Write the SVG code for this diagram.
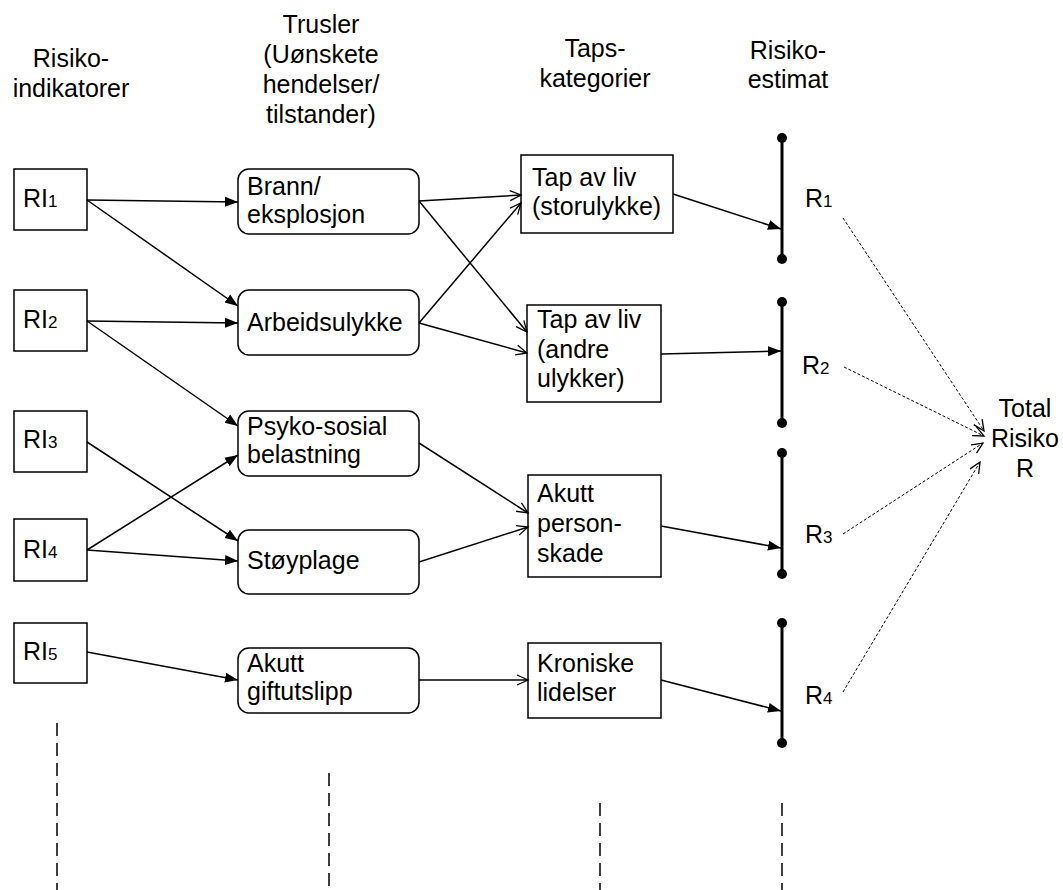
<svg xmlns="http://www.w3.org/2000/svg" width="1063" height="890" viewBox="0 0 1063 890">
  <style>
    text { font-family: "Liberation Sans", Arial, sans-serif; font-size: 25px; fill: #000; }
    .head { text-anchor: middle; }
    .sub { font-size: 17px; }
    .box { fill: #fff; stroke: #000; stroke-width: 1.5; }
    .edge { fill: none; stroke: #000; stroke-width: 1.5; }
    .dash { fill: none; stroke: #000; stroke-width: 1; stroke-dasharray: 3 2; }
    .guide { fill: none; stroke: #000; stroke-width: 1.5; stroke-dasharray: 13 7; }
    .bar { stroke: #000; stroke-width: 3; }
  </style>
  <defs>
    <marker id="solidHead" markerUnits="userSpaceOnUse" markerWidth="14" markerHeight="12" viewBox="0 0 14 12" refX="13" refY="6" orient="auto">
      <path d="M0,1 L13,6 L0,11 z" fill="#000"/>
    </marker>
    <marker id="openHead" markerUnits="userSpaceOnUse" markerWidth="14" markerHeight="12" viewBox="0 0 14 12" refX="12" refY="6" orient="auto">
      <path d="M1,1 L12,6 L1,11" fill="none" stroke="#000" stroke-width="1.3"/>
    </marker>
  </defs>
  <rect width="1063" height="890" fill="#fff"/>

  <!-- column headings -->
  <g id="headings">
    <text class="head" x="71" y="67">Risiko-</text>
    <text class="head" x="71" y="97">indikatorer</text>
    <text class="head" x="321" y="33">Trusler</text>
    <text class="head" x="321" y="63">(Uønskete</text>
    <text class="head" x="321" y="93">hendelser/</text>
    <text class="head" x="321" y="123">tilstander)</text>
    <text class="head" x="595" y="57">Taps-</text>
    <text class="head" x="595" y="87">kategorier</text>
    <text class="head" x="788" y="59">Risiko-</text>
    <text class="head" x="788" y="88">estimat</text>
  </g>

  <!-- risk indicators -->
  <g id="ri1"><rect class="box" x="14" y="169" width="73" height="61"/><text x="23" y="207">RI<tspan class="sub">1</tspan></text></g>
  <g id="ri2"><rect class="box" x="14" y="290" width="73" height="61"/><text x="23" y="328">RI<tspan class="sub">2</tspan></text></g>
  <g id="ri3"><rect class="box" x="14" y="411" width="73" height="61"/><text x="23" y="448">RI<tspan class="sub">3</tspan></text></g>
  <g id="ri4"><rect class="box" x="14" y="519" width="73" height="62"/><text x="23" y="558">RI<tspan class="sub">4</tspan></text></g>
  <g id="ri5"><rect class="box" x="14" y="623" width="73" height="60"/><text x="23" y="660">RI<tspan class="sub">5</tspan></text></g>

  <!-- threats -->
  <g id="brann"><rect class="box" x="238" y="169" width="181" height="65" rx="11"/><text x="247" y="195">Brann/</text><text x="247" y="223">eksplosjon</text></g>
  <g id="arbeidsulykke"><rect class="box" x="238" y="290" width="181" height="65" rx="11"/><text x="247" y="331">Arbeidsulykke</text></g>
  <g id="psykososial"><rect class="box" x="238" y="411" width="181" height="65" rx="11"/><text x="247" y="435">Psyko-sosial</text><text x="247" y="463">belastning</text></g>
  <g id="stoyplage"><rect class="box" x="238" y="530" width="181" height="64" rx="11"/><text x="247" y="569">Støyplage</text></g>
  <g id="giftutslipp"><rect class="box" x="238" y="648" width="181" height="65" rx="11"/><text x="247" y="672">Akutt</text><text x="247" y="700">giftutslipp</text></g>

  <!-- loss categories -->
  <g id="tap-storulykke"><rect class="box" x="521" y="155" width="152" height="78"/><text x="532" y="186">Tap av liv</text><text x="532" y="215">(storulykke)</text></g>
  <g id="tap-andre"><rect class="box" x="527" y="305" width="134" height="97"/><text x="537" y="328">Tap av liv</text><text x="537" y="358">(andre</text><text x="537" y="387">ulykker)</text></g>
  <g id="personskade"><rect class="box" x="528" y="475" width="133" height="102"/><text x="537" y="502">Akutt</text><text x="537" y="532">person-</text><text x="537" y="562">skade</text></g>
  <g id="kroniske"><rect class="box" x="528" y="643" width="133" height="75"/><text x="537" y="672">Kroniske</text><text x="537" y="701">lidelser</text></g>

  <!-- risk estimate scales -->
  <g id="r1"><line class="bar" x1="782" y1="138" x2="782" y2="259"/><circle cx="782" cy="138" r="5"/><circle cx="782" cy="259" r="5"/><text x="805" y="207">R<tspan class="sub">1</tspan></text></g>
  <g id="r2"><line class="bar" x1="782" y1="302" x2="782" y2="423"/><circle cx="782" cy="302" r="5"/><circle cx="782" cy="423" r="5"/><text x="802" y="374">R<tspan class="sub">2</tspan></text></g>
  <g id="r3"><line class="bar" x1="782" y1="453" x2="782" y2="574"/><circle cx="782" cy="453" r="5"/><circle cx="782" cy="574" r="5"/><text x="805" y="543">R<tspan class="sub">3</tspan></text></g>
  <g id="r4"><line class="bar" x1="782" y1="623" x2="782" y2="743"/><circle cx="782" cy="623" r="5"/><circle cx="782" cy="743" r="5"/><text x="805" y="704">R<tspan class="sub">4</tspan></text></g>

  <!-- total -->
  <g id="total">
    <text class="head" x="1025" y="417">Total</text>
    <text class="head" x="1025" y="447">Risiko</text>
    <text class="head" x="1025" y="477">R</text>
  </g>

  <!-- connectors -->
  <g id="connectors">
    <g marker-end="url(#solidHead)">
      <line class="edge" x1="87" y1="200" x2="238" y2="202"/>
      <line class="edge" x1="87" y1="200" x2="238" y2="306"/>
      <line class="edge" x1="87" y1="321" x2="238" y2="323"/>
      <line class="edge" x1="87" y1="321" x2="238" y2="426"/>
      <line class="edge" x1="87" y1="442" x2="238" y2="541"/>
      <line class="edge" x1="87" y1="550" x2="238" y2="455"/>
      <line class="edge" x1="87" y1="550" x2="238" y2="561"/>
      <line class="edge" x1="87" y1="652" x2="238" y2="680"/>
      <line class="edge" x1="673" y1="194" x2="781" y2="229"/>
      <line class="edge" x1="661" y1="354" x2="781" y2="351"/>
      <line class="edge" x1="661" y1="526" x2="781" y2="548"/>
      <line class="edge" x1="661" y1="680" x2="781" y2="711"/>
    </g>
    <g marker-end="url(#openHead)">
      <line class="edge" x1="419" y1="201" x2="521" y2="195"/>
      <line class="edge" x1="419" y1="201" x2="527" y2="332"/>
      <line class="edge" x1="419" y1="323" x2="521" y2="203"/>
      <line class="edge" x1="419" y1="323" x2="527" y2="353"/>
      <line class="edge" x1="419" y1="443" x2="528" y2="513"/>
      <line class="edge" x1="419" y1="562" x2="528" y2="527"/>
      <line class="edge" x1="419" y1="680" x2="528" y2="680"/>
    </g>
    <g marker-end="url(#openHead)">
      <line class="dash" x1="843" y1="218" x2="984" y2="431"/>
      <line class="dash" x1="844" y1="367" x2="984" y2="436"/>
      <line class="dash" x1="843" y1="534" x2="983" y2="443"/>
      <line class="dash" x1="843" y1="692" x2="980" y2="462"/>
    </g>
  </g>

  <!-- column guide lines -->
  <g id="guides">
    <line class="guide" x1="57" y1="723" x2="57" y2="890"/>
    <line class="guide" x1="329" y1="773" x2="329" y2="890"/>
    <line class="guide" x1="600" y1="803" x2="600" y2="890"/>
    <line class="guide" x1="782" y1="803" x2="782" y2="890"/>
  </g>
</svg>
